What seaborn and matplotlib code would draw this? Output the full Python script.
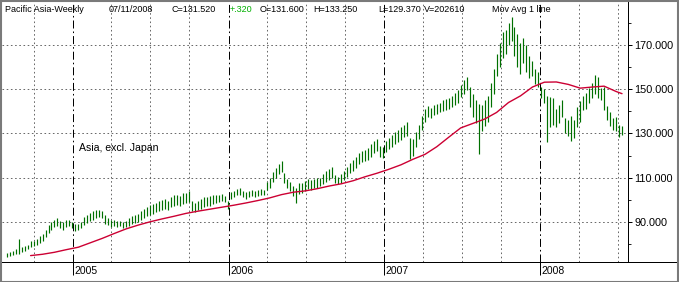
import numpy as np
import pandas as pd
import matplotlib
matplotlib.use("Agg")
import matplotlib.pyplot as plt
import seaborn as sns
from matplotlib.lines import Line2D
from matplotlib.patches import Rectangle

# ---------------- data ----------------
first_week = "2004-07-30"
last_week = "2008-07-11"

highs = [76, 76.5, 77, 77.5, 82, 78.5, 79, 79.5, 81.5, 81.5, 82, 83.5, 84.5, 86.5, 88.5, 90, 91, 91.5, 90.5, 90,
         91, 91, 90, 89, 89, 90, 92, 93, 94, 95, 95.5, 95.5, 95, 93, 91.5, 91, 91, 90.5, 90.5, 90,
         90.5, 91.5, 92.5, 93, 93.5, 95, 96, 96.5, 97.5, 98, 98.5, 99.5, 100, 100.5, 99.5, 101, 102, 102, 101.5, 103,
         103, 104, 99.5, 98.5, 99.5, 100.5, 101, 101, 101.5, 102, 102, 102, 102.5, 101.5, 99.5, 103.5, 104, 105, 105.5, 104,
         103.5, 104, 104.5, 104, 104.5, 105, 104.5, 108, 110, 112.5, 114.5, 116, 117.5, 112, 109.5, 108, 106, 105.5, 107.5, 107.5,
         108.5, 109.5, 109, 109.5, 110, 110, 111.5, 113, 114, 115, 111, 110.5, 111.5, 113, 115, 116.5, 118, 119.5, 121, 122,
         122.5, 123.5, 125, 126.5, 127.5, 124.5, 124, 126.5, 128, 129.5, 130.5, 131.5, 133, 134, 135, 128, 127.5, 130.5, 134, 138,
         141, 142.5, 141.5, 143, 143.5, 144, 145, 145.5, 146, 147, 148.5, 149.5, 152, 154, 155.7, 151, 148, 145, 143.5, 143,
         145, 147, 153, 159, 166, 171, 176, 177, 180, 182.5, 178, 175, 171, 173, 170, 165, 163, 159, 158, 151,
         150, 147, 146.5, 146, 141, 143, 145, 137, 136, 138, 136, 142, 144.5, 147, 148.5, 150.5, 153, 156.5, 155.5, 150.5,
         151, 142.5, 139.5, 137, 137.5, 134, 133.25]

lows = [74, 74.5, 75, 75.5, 75.5, 76.5, 77, 77.5, 78.5, 79, 79.5, 80.5, 81.5, 83, 85, 86.5, 87.5, 88, 87, 86.5,
        87.5, 88, 87, 86, 86.5, 87, 88.5, 89.5, 90.5, 91, 91.5, 92, 91.5, 89, 88.5, 87.5, 88, 87.5, 88, 87,
        87.5, 88, 89, 89.5, 90, 91, 91.5, 92.5, 93, 93.5, 94.5, 95, 95.5, 96, 95.5, 96.5, 97, 97.5, 97, 98,
        98.5, 99, 95, 94.5, 95.5, 96, 96.5, 97, 97, 98, 98.5, 99, 99.5, 99, 96, 100.5, 101, 102, 102, 101,
        100.5, 101, 101.5, 101, 101.5, 102, 102, 104.5, 105.5, 108, 110, 111.5, 112.5, 107.5, 105.5, 104, 101.5, 98.5, 102.5, 103,
        104, 105, 104.5, 105.5, 105.5, 106, 107, 108, 109, 110, 107.5, 107, 107.5, 109, 110.5, 112, 113, 114.5, 116, 117,
        117.5, 118, 119.5, 121, 122, 119.5, 119, 121.5, 123, 124, 125, 126, 127, 128.5, 129, 118.5, 120, 124, 127.5, 131.5,
        135, 137.5, 137, 138.5, 139, 139.5, 140, 140.5, 141, 142, 143, 144, 146.5, 148, 149.5, 142, 137.5, 134.5, 120.5, 131,
        133.5, 135, 142, 148, 156, 160, 164, 166, 170, 172, 165, 160, 157, 162, 158, 155, 156, 152.5, 151, 146,
        144, 126, 133, 134, 133, 134.5, 137.5, 130, 129, 126.5, 128, 133, 135, 140.5, 141, 144, 146, 148, 146, 145,
        140.5, 136, 133.5, 131.5, 131, 128.5, 129.37]

# 40-week moving average, read every 4th week (bar index) from the red line
ma_index = [8, 12, 16, 20, 24, 28, 32, 36, 40, 44, 48, 52, 56, 60, 64, 68, 72, 76, 80, 84,
            88, 92, 96, 100, 104, 108, 112, 116, 120, 124, 128, 132, 136, 140, 144, 148, 152, 156, 160, 164,
            168, 172, 176, 180, 184, 188, 192, 196, 200, 204, 206]
ma_values = [74.7, 75.3, 76.2, 77.4, 78.5, 80.5, 82.5, 84.7, 86.8, 88.5, 90.0, 91.3, 92.5, 93.8, 94.8, 95.7, 96.6, 97.5, 98.5, 99.6,
             100.8, 102.3, 103.4, 104.0, 105.0, 106.2, 107.2, 108.6, 110.4, 112.0, 113.8, 115.8, 118.3, 120.5, 124.0, 128.3, 132.5, 134.5, 136.5, 139.5,
             144.0, 147.0, 151.0, 153.2, 153.3, 152.2, 150.5, 151.0, 151.4, 149.0, 148.0]

y_major = [90, 110, 130, 150, 170]
y_minor = [80, 100, 120, 140, 160, 180]
year_labels = ["2005", "2006", "2007", "2008"]

header_parts = ["Pacific Asia-Weekly", "07/11/2008", "C=131.520", "+.320", "O=131.600",
                "H=133.250", "L=129.370", "V=202610", "Mov Avg 1 line"]
annotation = "Asia, excl. Japan"

# ---------------- figure ----------------
W, H = 679, 282
sns.set_style("white")
plt.rcParams["font.family"] = ["Liberation Sans", "DejaVu Sans"]

fig = plt.figure(figsize=(W / 100, H / 100), dpi=100)
fig.patch.set_facecolor("white")
ax = fig.add_axes([2 / W, 20 / H, 626 / W, 260 / H])
ax.set_facecolor("white")

dates = pd.date_range(first_week, last_week, freq="W-FRI")
df = pd.DataFrame({"date": dates, "high": highs, "low": lows})
ma_df = pd.DataFrame({"date": dates[ma_index], "ma": ma_values})

px = 0.72  # one pixel in points
dot = (0, (1.6, 2.6))

# grid: horizontal dotted
for v in y_major:
    ax.axhline(v, color="#6a6a6a", lw=px, ls=dot, zorder=1)
# vertical dotted at quarter starts, dash-dot at year starts
quarters = pd.date_range("2004-10-01", "2008-07-01", freq="QS-JAN")
for q in quarters:
    if q.month == 1:
        ax.axvline(q, color="black", lw=px, ls=(0, (8, 3, 1.6, 3)), zorder=1)
    else:
        ax.axvline(q, color="#6a6a6a", lw=px, ls=dot, zorder=1)

# OHLC bars (high-low)
ax.vlines(df["date"], df["low"], df["high"], color="#007000", lw=0.85, zorder=3)

# moving average
sns.lineplot(data=ma_df, x="date", y="ma", color="#cc0033", lw=1.0, ax=ax, zorder=4, legend=False)

ax.set_xlim(pd.Timestamp("2004-07-19"), pd.Timestamp("2008-07-25"))
ax.set_ylim(71.8, 189.5)
ax.set_xlabel("")
ax.set_ylabel("")

# right y axis
ax.yaxis.tick_right()
ax.set_yticks(y_major)
ax.set_yticklabels([f"{v:.3f}" for v in y_major])
ax.set_yticks(y_minor, minor=True)
ax.tick_params(axis="y", which="major", length=3, width=px, pad=1.5,
               labelsize=7.8, colors="black", direction="out", right=True, left=False)
ax.tick_params(axis="y", which="minor", length=2.2, width=px, right=True, left=False, direction="out")

# bottom x ticks at year starts
year_pos = [pd.Timestamp(f"{y}-01-01") for y in year_labels]
ax.set_xticks(year_pos)
ax.set_xticklabels([])
ax.set_xticks([], minor=True)
ax.tick_params(axis="x", which="major", length=9, width=px, direction="out", bottom=True, colors="black")
for p, lab in zip(year_pos, year_labels):
    ax.annotate(lab, xy=(p, 0), xycoords=("data", "axes fraction"),
                xytext=(1.5, -8.5), textcoords="offset pixels",
                ha="left", va="center", fontsize=7.5, color="black")

for s in ["top", "left", "bottom"]:
    ax.spines[s].set_visible(False)
ax.spines["right"].set_color("black")
ax.spines["right"].set_linewidth(px)

# bottom axis line across the whole width
fig.add_artist(Line2D([2 / W, 676 / W], [1 - 262 / H, 1 - 262 / H], transform=fig.transFigure,
                      color="black", lw=px, antialiased=False))

# header texts
header_x = [5, 109, 172, 230, 260, 313, 378, 424, 492]
for t, xpx in zip(header_parts, header_x):
    col = "#00b000" if t.startswith("+") else "black"
    fig.text(xpx / W, 1 - 12 / H, t, fontsize=6.5, color=col, ha="left", va="baseline", zorder=10)

# in-chart annotation
fig.text(79 / W, 1 - 148 / H, annotation, fontsize=7.6, color="black", ha="left", va="center")

# outer frame
fig.add_artist(Rectangle((0.5 / W, 0.5 / H), 1 - 1.5 / W, 1 - 1.5 / H, transform=fig.transFigure,
                         fill=False, edgecolor="#7a7a7a", lw=1.5))

fig.savefig("out.png", dpi=100)
